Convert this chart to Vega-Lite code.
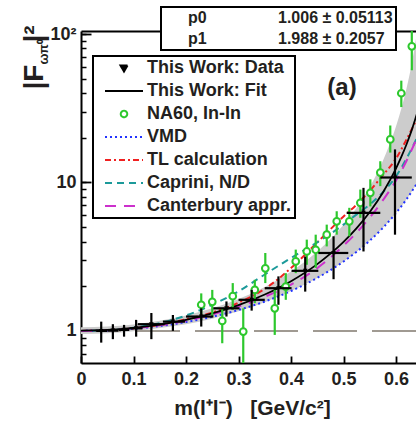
{
  "$schema": "https://vega.github.io/schema/vega-lite/v6.json",
  "width": 335,
  "height": 332,
  "autosize": "none",
  "padding": {"left": 81, "top": 31, "right": 0, "bottom": 63},
  "background": "white",
  "config": {"view": {"stroke": null}, "font": "Liberation Sans"},
  "resolve": {"axis": {"x": "independent", "y": "independent"}},
  "datasets": {
    "band": [
      {"m": 0, "lo": 0.955, "hi": 1.057},
      {"m": 0.05, "lo": 0.965, "hi": 1.069},
      {"m": 0.1, "lo": 0.995, "hi": 1.105},
      {"m": 0.15, "lo": 1.045, "hi": 1.17},
      {"m": 0.2, "lo": 1.107, "hi": 1.27},
      {"m": 0.25, "lo": 1.21, "hi": 1.42},
      {"m": 0.3, "lo": 1.355, "hi": 1.641},
      {"m": 0.35, "lo": 1.563, "hi": 1.977},
      {"m": 0.4, "lo": 1.858, "hi": 2.51},
      {"m": 0.45, "lo": 2.276, "hi": 3.423},
      {"m": 0.5, "lo": 2.935, "hi": 5.185},
      {"m": 0.525, "lo": 3.415, "hi": 6.765},
      {"m": 0.55, "lo": 4.059, "hi": 9.346},
      {"m": 0.575, "lo": 4.949, "hi": 14.02},
      {"m": 0.6, "lo": 6.231, "hi": 23.93},
      {"m": 0.61, "lo": 6.907, "hi": 31.35},
      {"m": 0.62, "lo": 7.717, "hi": 43.09},
      {"m": 0.63, "lo": 8.693, "hi": 63.32},
      {"m": 0.64, "lo": 9.887, "hi": 102.9}
    ],
    "fit": [
      {"series": "This Work: Fit", "m": 0, "F2": 1.006},
      {"series": "This Work: Fit", "m": 0.05, "F2": 1.016},
      {"series": "This Work: Fit", "m": 0.1, "F2": 1.047},
      {"series": "This Work: Fit", "m": 0.15, "F2": 1.102},
      {"series": "This Work: Fit", "m": 0.2, "F2": 1.187},
      {"series": "This Work: Fit", "m": 0.25, "F2": 1.312},
      {"series": "This Work: Fit", "m": 0.3, "F2": 1.492},
      {"series": "This Work: Fit", "m": 0.35, "F2": 1.758},
      {"series": "This Work: Fit", "m": 0.4, "F2": 2.163},
      {"series": "This Work: Fit", "m": 0.45, "F2": 2.819},
      {"series": "This Work: Fit", "m": 0.5, "F2": 3.976},
      {"series": "This Work: Fit", "m": 0.525, "F2": 4.923},
      {"series": "This Work: Fit", "m": 0.55, "F2": 6.331},
      {"series": "This Work: Fit", "m": 0.575, "F2": 8.565},
      {"series": "This Work: Fit", "m": 0.6, "F2": 12.445},
      {"series": "This Work: Fit", "m": 0.61, "F2": 14.85},
      {"series": "This Work: Fit", "m": 0.62, "F2": 18.09},
      {"series": "This Work: Fit", "m": 0.63, "F2": 22.6},
      {"series": "This Work: Fit", "m": 0.64, "F2": 29.17}
    ],
    "theory": [
      {"series": "VMD", "m": 0, "F2": 1.0},
      {"series": "VMD", "m": 0.05, "F2": 1.008},
      {"series": "VMD", "m": 0.1, "F2": 1.034},
      {"series": "VMD", "m": 0.15, "F2": 1.079},
      {"series": "VMD", "m": 0.2, "F2": 1.148},
      {"series": "VMD", "m": 0.25, "F2": 1.246},
      {"series": "VMD", "m": 0.3, "F2": 1.384},
      {"series": "VMD", "m": 0.35, "F2": 1.578},
      {"series": "VMD", "m": 0.4, "F2": 1.858},
      {"series": "VMD", "m": 0.45, "F2": 2.276},
      {"series": "VMD", "m": 0.5, "F2": 2.935},
      {"series": "VMD", "m": 0.525, "F2": 3.415},
      {"series": "VMD", "m": 0.55, "F2": 4.059},
      {"series": "VMD", "m": 0.575, "F2": 4.949},
      {"series": "VMD", "m": 0.6, "F2": 6.231},
      {"series": "VMD", "m": 0.62, "F2": 7.717},
      {"series": "VMD", "m": 0.64, "F2": 9.887},
      {"series": "TL calculation", "m": 0, "F2": 1.0},
      {"series": "TL calculation", "m": 0.05, "F2": 1.01},
      {"series": "TL calculation", "m": 0.1, "F2": 1.04},
      {"series": "TL calculation", "m": 0.15, "F2": 1.1},
      {"series": "TL calculation", "m": 0.2, "F2": 1.2},
      {"series": "TL calculation", "m": 0.25, "F2": 1.33},
      {"series": "TL calculation", "m": 0.3, "F2": 1.55},
      {"series": "TL calculation", "m": 0.35, "F2": 1.92},
      {"series": "TL calculation", "m": 0.4, "F2": 2.65},
      {"series": "TL calculation", "m": 0.45, "F2": 3.95},
      {"series": "TL calculation", "m": 0.5, "F2": 5.9},
      {"series": "TL calculation", "m": 0.525, "F2": 7.1},
      {"series": "TL calculation", "m": 0.55, "F2": 8.8},
      {"series": "TL calculation", "m": 0.575, "F2": 11.2},
      {"series": "TL calculation", "m": 0.6, "F2": 14.5},
      {"series": "TL calculation", "m": 0.62, "F2": 19.5},
      {"series": "TL calculation", "m": 0.64, "F2": 27},
      {"series": "Caprini, N/D", "m": 0, "F2": 1.0},
      {"series": "Caprini, N/D", "m": 0.05, "F2": 1.01},
      {"series": "Caprini, N/D", "m": 0.1, "F2": 1.05},
      {"series": "Caprini, N/D", "m": 0.15, "F2": 1.13},
      {"series": "Caprini, N/D", "m": 0.2, "F2": 1.27},
      {"series": "Caprini, N/D", "m": 0.25, "F2": 1.5},
      {"series": "Caprini, N/D", "m": 0.3, "F2": 1.85},
      {"series": "Caprini, N/D", "m": 0.35, "F2": 2.4},
      {"series": "Caprini, N/D", "m": 0.4, "F2": 3.1},
      {"series": "Caprini, N/D", "m": 0.45, "F2": 3.95},
      {"series": "Caprini, N/D", "m": 0.5, "F2": 5.2},
      {"series": "Caprini, N/D", "m": 0.525, "F2": 6.1},
      {"series": "Caprini, N/D", "m": 0.55, "F2": 7.1},
      {"series": "Caprini, N/D", "m": 0.575, "F2": 8.6},
      {"series": "Caprini, N/D", "m": 0.6, "F2": 11.0},
      {"series": "Caprini, N/D", "m": 0.62, "F2": 14.5},
      {"series": "Caprini, N/D", "m": 0.64, "F2": 20},
      {"series": "Canterbury appr.", "m": 0, "F2": 1.0},
      {"series": "Canterbury appr.", "m": 0.05, "F2": 1.01},
      {"series": "Canterbury appr.", "m": 0.1, "F2": 1.04},
      {"series": "Canterbury appr.", "m": 0.15, "F2": 1.09},
      {"series": "Canterbury appr.", "m": 0.2, "F2": 1.17},
      {"series": "Canterbury appr.", "m": 0.25, "F2": 1.29},
      {"series": "Canterbury appr.", "m": 0.3, "F2": 1.46},
      {"series": "Canterbury appr.", "m": 0.35, "F2": 1.7},
      {"series": "Canterbury appr.", "m": 0.4, "F2": 2.05},
      {"series": "Canterbury appr.", "m": 0.45, "F2": 2.65},
      {"series": "Canterbury appr.", "m": 0.5, "F2": 3.75},
      {"series": "Canterbury appr.", "m": 0.525, "F2": 4.6},
      {"series": "Canterbury appr.", "m": 0.55, "F2": 5.8},
      {"series": "Canterbury appr.", "m": 0.575, "F2": 7.6},
      {"series": "Canterbury appr.", "m": 0.6, "F2": 10.3},
      {"series": "Canterbury appr.", "m": 0.62, "F2": 14.0},
      {"series": "Canterbury appr.", "m": 0.64, "F2": 20}
    ],
    "na60": [
      {"m": 0.229, "F2": 1.5, "lo": 1.187, "hi": 1.79},
      {"m": 0.25, "F2": 1.57, "lo": 1.25, "hi": 1.89},
      {"m": 0.269, "F2": 1.168, "lo": 0.826, "hi": 1.42},
      {"m": 0.289, "F2": 1.715, "lo": 1.386, "hi": 2.1},
      {"m": 0.309, "F2": 0.99, "lo": 0.5, "hi": 1.42},
      {"m": 0.331, "F2": 1.89, "lo": 1.54, "hi": 2.21},
      {"m": 0.351, "F2": 2.64, "lo": 2.1, "hi": 3.35},
      {"m": 0.369, "F2": 1.42, "lo": 0.94, "hi": 1.89},
      {"m": 0.39, "F2": 1.99, "lo": 1.62, "hi": 2.45},
      {"m": 0.409, "F2": 2.94, "lo": 2.45, "hi": 3.53},
      {"m": 0.43, "F2": 3.43, "lo": 2.79, "hi": 4.12},
      {"m": 0.447, "F2": 3.52, "lo": 2.66, "hi": 4.45},
      {"m": 0.468, "F2": 4.45, "lo": 3.71, "hi": 5.2},
      {"m": 0.487, "F2": 5.47, "lo": 4.45, "hi": 6.4},
      {"m": 0.511, "F2": 5.47, "lo": 4.34, "hi": 6.75},
      {"m": 0.532, "F2": 7.29, "lo": 5.78, "hi": 8.96},
      {"m": 0.551, "F2": 8.51, "lo": 6.9, "hi": 10.5},
      {"m": 0.57, "F2": 11.66, "lo": 9.45, "hi": 13.9},
      {"m": 0.589, "F2": 19.5, "lo": 15.9, "hi": 24.2},
      {"m": 0.61, "F2": 39.9, "lo": 32.2, "hi": 48.5},
      {"m": 0.63, "F2": 82.6, "lo": 57, "hi": 120}
    ],
    "thiswork": [
      {"m": 0.0385, "F2": 1.0, "lo": 0.834, "hi": 1.155, "mlo": 0.029, "mhi": 0.05},
      {"m": 0.0607, "F2": 1.005, "lo": 0.88, "hi": 1.11, "mlo": 0.051, "mhi": 0.071},
      {"m": 0.082, "F2": 1.016, "lo": 0.915, "hi": 1.098, "mlo": 0.072, "mhi": 0.092},
      {"m": 0.105, "F2": 1.04, "lo": 0.915, "hi": 1.187, "mlo": 0.093, "mhi": 0.117},
      {"m": 0.134, "F2": 1.11, "lo": 0.88, "hi": 1.32, "mlo": 0.108, "mhi": 0.159},
      {"m": 0.175, "F2": 1.155, "lo": 1.0, "hi": 1.28, "mlo": 0.156, "mhi": 0.198},
      {"m": 0.229, "F2": 1.25, "lo": 1.07, "hi": 1.42, "mlo": 0.2, "mhi": 0.252},
      {"m": 0.277, "F2": 1.42, "lo": 1.25, "hi": 1.58, "mlo": 0.252, "mhi": 0.302},
      {"m": 0.325, "F2": 1.62, "lo": 1.37, "hi": 1.89, "mlo": 0.3, "mhi": 0.35},
      {"m": 0.376, "F2": 1.94, "lo": 1.5, "hi": 2.33, "mlo": 0.35, "mhi": 0.401},
      {"m": 0.427, "F2": 2.54, "lo": 1.84, "hi": 3.17, "mlo": 0.401, "mhi": 0.452},
      {"m": 0.481, "F2": 3.35, "lo": 2.23, "hi": 4.34, "mlo": 0.452, "mhi": 0.509},
      {"m": 0.538, "F2": 6.24, "lo": 3.43, "hi": 9.2, "mlo": 0.506, "mhi": 0.57},
      {"m": 0.598, "F2": 10.8, "lo": 4.45, "hi": 16.7, "mlo": 0.57, "mhi": 0.63}
    ]
  },
  "layer": [
    {
      "data": {"name": "band"},
      "mark": {"type": "area", "color": "#cccccc", "opacity": 1, "clip": true, "interpolate": "monotone"},
      "encoding": {
        "x": {"field": "m", "type": "quantitative",
          "scale": {"domain": [0, 0.638], "nice": false, "zero": false},
          "axis": {"values": [0, 0.1, 0.2, 0.3, 0.4, 0.5, 0.6], "format": "~g", "grid": false,
            "tickSize": -7, "tickWidth": 1.8, "tickColor": "black",
            "domainColor": "black", "domainWidth": 2,
            "labelFont": "Liberation Sans", "labelFontWeight": "bold", "labelFontSize": 18, "labelColor": "#231f20",
            "labelPadding": 14, "labelFlush": false,
            "title": "m(l⁺l⁻)\u00a0\u00a0\u00a0[GeV/c²]", "titleFont": "Liberation Sans", "titleFontSize": 21, "titleFontWeight": "bold", "titleColor": "#231f20",
            "titleX": 171, "titleY": 51, "titleBaseline": "alphabetic", "titleAlign": "center"}},
        "y": {"field": "lo", "type": "quantitative",
          "scale": {"type": "log", "domain": [0.608, 104.8], "nice": false},
          "axis": {"values": [0.7, 0.8, 0.9, 1, 2, 3, 4, 5, 6, 7, 8, 9, 10, 20, 30, 40, 50, 60, 70, 80, 90, 100],
            "labelExpr": "datum.value == 100 ? '10²' : datum.value == 10 ? '10' : datum.value == 1 ? '1' : ''",
            "grid": false, "tickSize": -5, "tickWidth": 1.5, "tickColor": "black",
            "domainColor": "black", "domainWidth": 2,
            "labelFont": "Liberation Sans", "labelFontWeight": "bold", "labelFontSize": 18, "labelColor": "#231f20",
            "labelPadding": 10,
            "title": "|F", "titleFont": "Liberation Sans", "titleFontSize": 28, "titleFontWeight": "bold", "titleColor": "#231f20",
            "titleAngle": 270, "titleX": -39, "titleY": 58, "titleAlign": "left", "titleBaseline": "alphabetic"}},
        "y2": {"field": "hi"}
      }
    },
    {
      "data": {"values": [{"ref": 1}]},
      "mark": {"type": "rule", "color": "#a09a92", "strokeWidth": 2, "strokeDash": [44, 15]},
      "encoding": {"y": {"field": "ref", "type": "quantitative", "axis": null}}
    },
    {
      "data": {"name": "theory"},
      "mark": {"type": "line", "strokeWidth": 2, "clip": true, "interpolate": "monotone"},
      "encoding": {
        "x": {"field": "m", "type": "quantitative",
          "axis": {"orient": "top", "labels": false, "ticks": false, "domain": true, "domainColor": "black", "domainWidth": 2, "title": null, "grid": false}},
        "y": {"field": "F2", "type": "quantitative",
          "axis": {"orient": "left", "values": [1, 10, 100], "tickSize": -10, "tickWidth": 1.8, "tickColor": "black", "labels": false, "domain": false, "grid": false,
            "title": "ωπ⁰", "titleFont": "Liberation Sans", "titleFontSize": 13, "titleFontWeight": "bold", "titleColor": "#231f20",
            "titleAngle": 270, "titleX": -34, "titleY": 33, "titleAlign": "left", "titleBaseline": "alphabetic"}},
        "detail": {"field": "series"},
        "strokeDash": {"field": "series", "type": "nominal", "legend": null,
          "scale": {"domain": ["VMD", "TL calculation", "Caprini, N/D", "Canterbury appr."],
            "range": [[2, 3], [6, 3, 2, 3], [7, 5], [11, 8]]}},
        "color": {"field": "series", "type": "nominal",
          "scale": {"domain": ["This Work: Data", "This Work: Fit", "NA60, In-In", "VMD", "TL calculation", "Caprini, N/D", "Canterbury appr."],
            "range": ["#000000", "#000000", "#2dc82d", "#2233ff", "#f02020", "#1c9a9a", "#cc30cc"]},
          "legend": {
            "title": null, "orient": "none", "legendX": 12, "legendY": 25,
            "padding": 3, "rowPadding": 5, "symbolSize": 100, "symbolOffset": 19, "labelOffset": 14,
            "labelFont": "Liberation Sans", "labelFontSize": 18, "labelFontWeight": "bold", "labelColor": "#231f20",
            "labelExpr": "datum.label + '\u00a0\u00a0\u00a0\u00a0'", "labelLimit": 400,
            "strokeColor": "black", "fillColor": "white",
            "encoding": {
              "legend": {"strokeWidth": {"value": 2}},
              "symbols": {
                "shape": {"condition": [
                    {"test": "datum.value === 'This Work: Data'", "value": "M-0.7,-0.5L0.7,-0.5L0,0.7Z"},
                    {"test": "datum.value === 'NA60, In-In'", "value": "M-0.65,0A0.65,0.65,0,1,1,0.65,0A0.65,0.65,0,1,1,-0.65,0Z"}],
                  "value": "M-3.8,0L3.8,0"},
                "fill": {"condition": [{"test": "datum.value === 'This Work: Data'", "value": "black"}], "value": "transparent"},
                "stroke": {"condition": [
                    {"test": "datum.value === 'NA60, In-In'", "value": "#2dc82d"},
                    {"test": "datum.value === 'VMD'", "value": "#2233ff"},
                    {"test": "datum.value === 'TL calculation'", "value": "#f02020"},
                    {"test": "datum.value === 'Caprini, N/D'", "value": "#1c9a9a"},
                    {"test": "datum.value === 'Canterbury appr.'", "value": "#cc30cc"}],
                  "value": "black"},
                "strokeDash": {"condition": [
                    {"test": "datum.value === 'VMD'", "value": [2, 3]},
                    {"test": "datum.value === 'TL calculation'", "value": [6, 3, 2, 3]},
                    {"test": "datum.value === 'Caprini, N/D'", "value": [7, 5]},
                    {"test": "datum.value === 'Canterbury appr.'", "value": [11, 8]}],
                  "value": [1, 0]},
                "strokeWidth": {"value": 2},
                "opacity": {"value": 1},
                "size": {"value": 100}
              }
            }
          }}
      }
    },
    {
      "data": {"name": "fit"},
      "mark": {"type": "line", "color": "black", "strokeWidth": 1.8, "clip": true, "interpolate": "monotone"},
      "encoding": {
        "x": {"field": "m", "type": "quantitative", "axis": null},
        "y": {"field": "F2", "type": "quantitative",
          "axis": {"orient": "left", "ticks": false, "labels": false, "domain": false, "grid": false,
            "title": "|²", "titleFont": "Liberation Sans", "titleFontSize": 28, "titleFontWeight": "bold", "titleColor": "#231f20",
            "titleAngle": 270, "titleX": -39, "titleY": 11, "titleAlign": "left", "titleBaseline": "alphabetic"}}
      }
    },
    {
      "data": {"name": "na60"},
      "mark": {"type": "rule", "color": "#2dc82d", "strokeWidth": 2.2, "clip": true},
      "encoding": {
        "x": {"field": "m", "type": "quantitative", "axis": null},
        "y": {"field": "lo", "type": "quantitative", "axis": null},
        "y2": {"field": "hi"}
      }
    },
    {
      "data": {"name": "na60"},
      "mark": {"type": "point", "shape": "circle", "size": 45, "filled": true, "fill": "white", "stroke": "#2dc82d", "strokeWidth": 2, "opacity": 1, "clip": true},
      "encoding": {
        "x": {"field": "m", "type": "quantitative", "axis": null},
        "y": {"field": "F2", "type": "quantitative", "axis": null}
      }
    },
    {
      "data": {"name": "thiswork"},
      "mark": {"type": "rule", "color": "black", "strokeWidth": 2.2, "clip": true},
      "encoding": {
        "x": {"field": "m", "type": "quantitative", "axis": null},
        "y": {"field": "lo", "type": "quantitative", "axis": null},
        "y2": {"field": "hi"}
      }
    },
    {
      "data": {"name": "thiswork"},
      "mark": {"type": "rule", "color": "black", "strokeWidth": 2.2, "clip": true},
      "encoding": {
        "x": {"field": "mlo", "type": "quantitative", "axis": null},
        "x2": {"field": "mhi"},
        "y": {"field": "F2", "type": "quantitative", "axis": null}
      }
    },
    {
      "data": {"name": "thiswork"},
      "mark": {"type": "point", "shape": "triangle-down", "size": 22, "filled": true, "color": "black", "opacity": 1, "clip": true},
      "encoding": {
        "x": {"field": "m", "type": "quantitative", "axis": null},
        "y": {"field": "F2", "type": "quantitative", "axis": null}
      }
    },
    {
      "data": {"values": [{"t": "(a)"}]},
      "mark": {"type": "text", "font": "Liberation Sans", "fontSize": 24, "fontWeight": "bold", "color": "#231f20", "align": "center", "baseline": "middle"},
      "encoding": {
        "x": {"datum": 0.497, "type": "quantitative", "axis": null},
        "y": {"datum": 43.3, "type": "quantitative", "axis": null},
        "text": {"field": "t"}
      }
    },
    {
      "data": {"values": [{"stat": "p0"}, {"stat": "p1"}, {"stat": "1.006 ± 0.05113"}, {"stat": "1.988 ± 0.2057"}]},
      "mark": {"type": "point", "opacity": 0},
      "encoding": {
        "shape": {"field": "stat", "type": "nominal",
          "scale": {"domain": ["p0", "p1", "1.006 ± 0.05113", "1.988 ± 0.2057"]},
          "legend": {
            "title": null, "orient": "none", "legendX": 80, "legendY": -24,
            "columns": 2, "columnPadding": 47, "rowPadding": 5, "padding": 3,
            "symbolSize": 0, "symbolOpacity": 0, "labelOffset": 8,
            "labelFont": "Liberation Sans", "labelFontSize": 16, "labelFontWeight": "bold", "labelColor": "#231f20",
            "labelExpr": "(datum.label == '1.988 ± 0.2057' ? '\u2007' : '') + datum.label + '\u00a0\u00a0'", "labelLimit": 400,
            "strokeColor": "black", "fillColor": "white",
            "encoding": {"legend": {"strokeWidth": {"value": 2}}}
          }}
      }
    }
  ]
}
